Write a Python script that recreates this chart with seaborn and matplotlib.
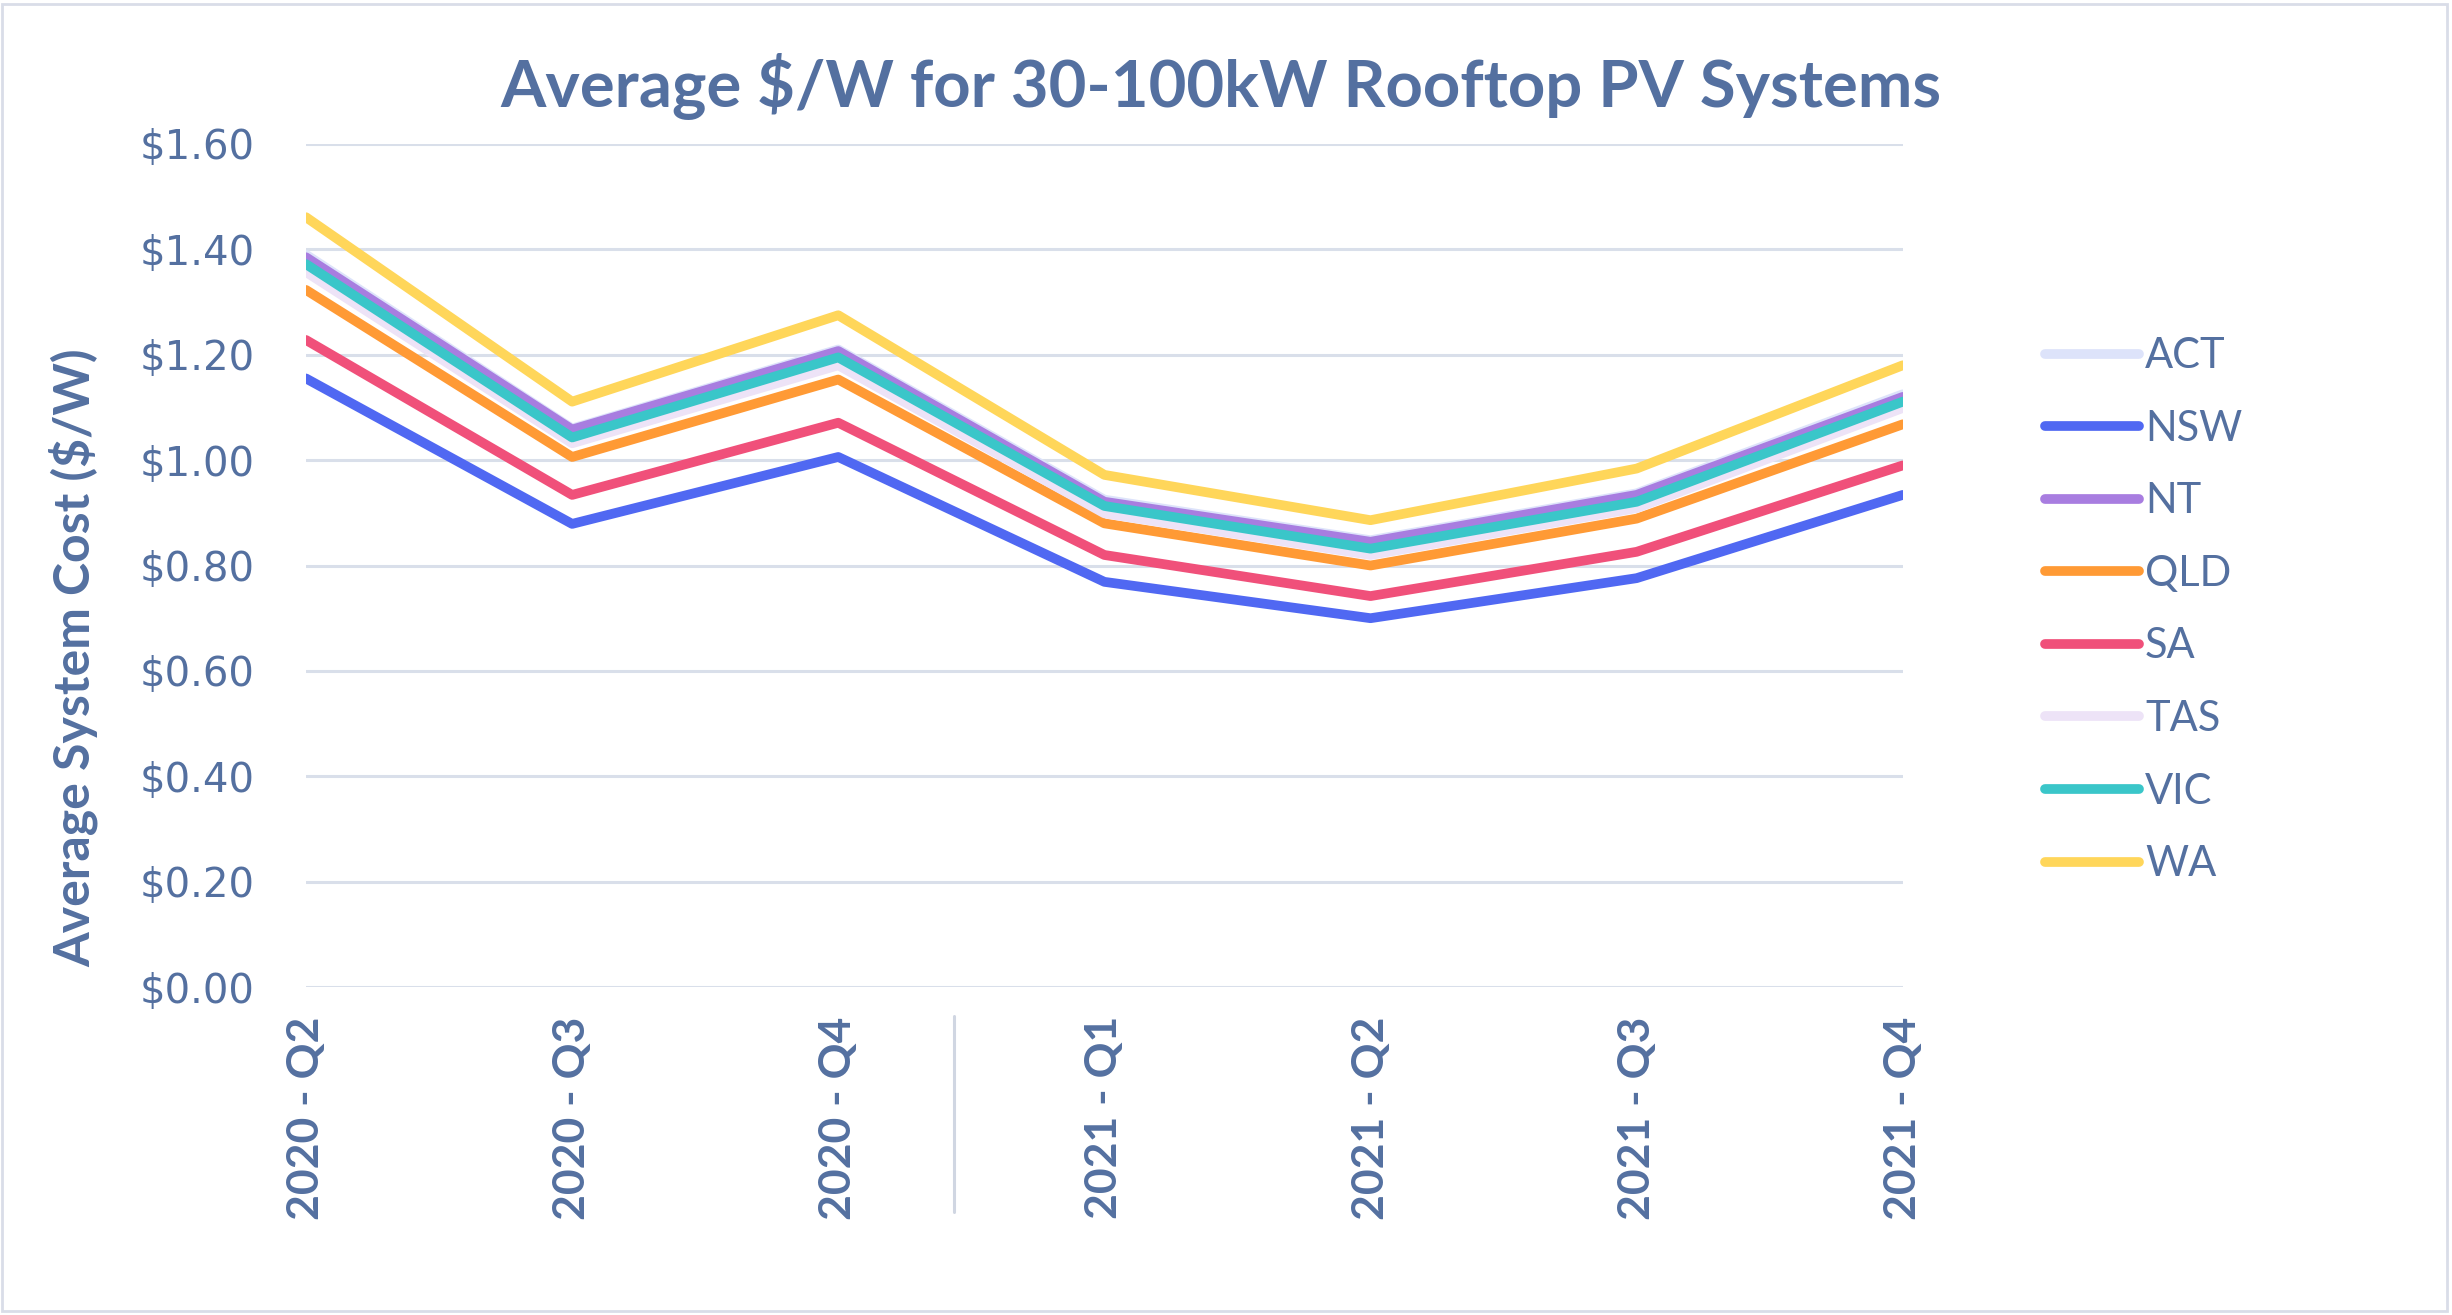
import pandas as pd
import numpy as np
import matplotlib
matplotlib.use('Agg')
import matplotlib.pyplot as plt
import matplotlib.transforms as mtransforms
from matplotlib.patches import Rectangle
from matplotlib.font_manager import FontProperties
import seaborn as sns

sns.set_theme(style="white")

quarters = ['2020 - Q2', '2020 - Q3', '2020 - Q4', '2021 - Q1', '2021 - Q2', '2021 - Q3', '2021 - Q4']
states = ['ACT', 'NSW', 'NT', 'QLD', 'SA', 'TAS', 'VIC', 'WA']

act = [1.39, 1.06, 1.21, 0.925, 0.848, 0.937, 1.125]
nsw = [1.155, 0.879, 1.006, 0.769, 0.700, 0.776, 0.934]
nt = [1.385, 1.058, 1.207, 0.921, 0.845, 0.934, 1.120]
qld = [1.323, 1.006, 1.153, 0.880, 0.800, 0.889, 1.068]
sa = [1.228, 0.934, 1.071, 0.820, 0.742, 0.826, 0.990]
tas = [1.357, 1.032, 1.180, 0.899, 0.820, 0.909, 1.099]
vic = [1.372, 1.043, 1.195, 0.913, 0.832, 0.921, 1.111]
wa = [1.461, 1.111, 1.275, 0.972, 0.886, 0.984, 1.180]

colors = {'ACT': '#dde3fa', 'NSW': '#5068f2', 'NT': '#a87de0', 'QLD': '#ff9a35',
          'SA': '#f0507a', 'TAS': '#ede3f7', 'VIC': '#3ac6c9', 'WA': '#ffd65a'}

text_col = '#5470a0'

series = [act, nsw, nt, qld, sa, tas, vic, wa]
df = pd.concat([pd.DataFrame({'quarter': quarters, 'state': s, 'cost': v})
                for s, v in zip(states, series)], ignore_index=True)

fig = plt.figure(figsize=(24.52, 13.15), dpi=100)
ax = fig.add_axes([0.1248, 0.2494, 0.6512, 0.6411])

sns.lineplot(data=df, x='quarter', y='cost', hue='state', hue_order=states,
             palette=colors, linewidth=7, sort=False, legend=False, ax=ax,
             solid_capstyle='round')

ax.set_xlim(0, 6)
ax.set_ylim(0, 1.6)
yt = np.arange(0, 1.61, 0.2)
ax.set_yticks(yt)
ax.set_yticklabels([f'${v:.2f}' for v in yt])
ax.tick_params(axis='y', length=0, pad=37)
ax.tick_params(axis='x', length=0, pad=21)
for t in ax.get_yticklabels():
    t.set_fontsize(29)
    t.set_color(text_col)
    t.set_family('DejaVu Sans')

xfont = FontProperties(family='Lato', weight='bold', size=32)
ax.set_xticks(range(len(quarters)))
ax.set_xticklabels(quarters, rotation=90, va='top', color=text_col,
                   fontproperties=xfont)

ax.grid(axis='y', color='#d9dfea', linewidth=2.2, zorder=0)
ax.set_axisbelow(True)
for sp in ax.spines.values():
    sp.set_visible(False)
ax.set_xlabel('')
ax.set_ylabel('')

# year separator between 2020 and 2021
trans = mtransforms.blended_transform_factory(ax.transData, ax.transAxes)
ax.plot([2.435, 2.435], [-0.034, -0.267], transform=trans, clip_on=False,
        color='#d0d6e2', linewidth=2.2)

fig.text(0.0298, 0.500, 'Average System Cost ($/W)', rotation=90, ha='center',
         va='center', fontsize=36, fontweight='bold', color=text_col, family='Lato')
fig.text(0.498, 0.9346, 'Average $/W for 30-100kW Rooftop PV Systems', ha='center',
         va='center', fontsize=47, fontweight='bold', color=text_col, family='Lato')

handles = ax.get_lines()[:len(states)]
leg = fig.legend(handles, states, loc='center left', bbox_to_anchor=(0.834, 0.536),
                 frameon=False, fontsize=30, handlelength=2.25, handletextpad=0.15,
                 labelspacing=0.83, borderpad=0, borderaxespad=0)
for t in leg.get_texts():
    t.set_color(text_col)
    t.set_family('Lato')

fig.patches.append(Rectangle((0.001, 0.003), 0.997, 0.994, transform=fig.transFigure,
                             fill=False, edgecolor='#d9dde8', linewidth=2))

fig.savefig('out.png', dpi=100)
